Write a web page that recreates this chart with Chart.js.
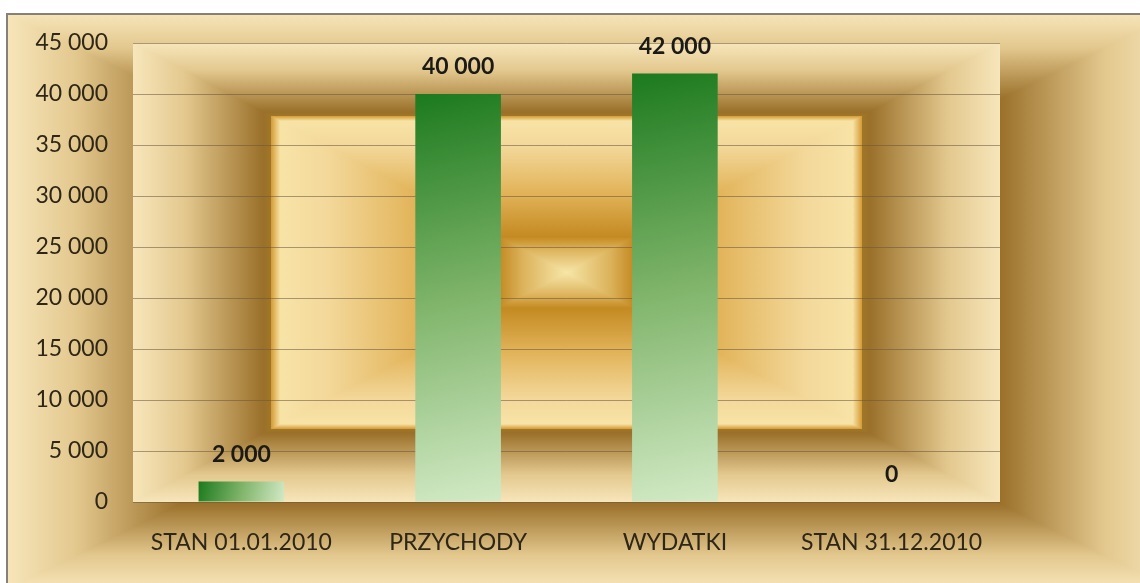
<!DOCTYPE html>
<html>
<head>
<meta charset="utf-8">
<title>Stan 2010</title>
<script src="https://cdn.jsdelivr.net/npm/chart.js@4.4.1/dist/chart.umd.min.js"></script>
<style>
    html, body { margin: 0; padding: 0; background: #ffffff; }
    #wrap { position: relative; width: 1140px; height: 583px; }
</style>
</head>
<body>
<div id="wrap"><canvas id="graphCanvas" width="1140" height="583"></canvas></div>
<script>
var categories = ['STAN 01.01.2010', 'PRZYCHODY', 'WYDATKI', 'STAN 31.12.2010'];
var amounts = [2000, 40000, 42000, 0];
var yTicks = [0, 5000, 10000, 15000, 20000, 25000, 30000, 35000, 40000, 45000];

var BAR_SHARE = 0.395;

// "gold" fill, t = 0 at the edge of the box, t = 1 in the middle
var goldStops = [
    [0, '#f7e6bb'],
    [0.12, '#e3c88e'],
    [0.30, '#9a702a'],
    [0.318, '#a07628'],
    [0.318, '#d49a34'],
    [0.34, '#f8e3a6'],
    [0.45, '#f3d89a'],
    [0.65, '#e2b45a'],
    [0.845, '#c48a22'],
    [0.9, '#dcb35c'],
    [1, '#f7e6a8']
];

function spaced(v) {
    return String(v).replace(/\B(?=(\d{3})+(?!\d))/g, ' ');
}

// rectangular gradient: left/right half over the whole box, then top and bottom triangles
function boxGradient(ctx, x0, y0, x1, y1, stops) {
    var cx = (x0 + x1) / 2, cy = (y0 + y1) / 2;
    var i, g;

    g = ctx.createLinearGradient(x0, 0, x1, 0);
    for (i = 0; i < stops.length; i++) g.addColorStop(stops[i][0] / 2, stops[i][1]);
    for (i = stops.length - 1; i >= 0; i--) g.addColorStop(1 - stops[i][0] / 2, stops[i][1]);
    ctx.fillStyle = g;
    ctx.fillRect(x0, y0, x1 - x0, y1 - y0);

    var tri = [[y0, x0, x1], [y1, x1, x0]];
    for (var k = 0; k < tri.length; k++) {
        var ey = tri[k][0];
        g = ctx.createLinearGradient(0, ey, 0, cy);
        for (i = 0; i < stops.length; i++) g.addColorStop(stops[i][0], stops[i][1]);
        ctx.beginPath();
        ctx.moveTo(tri[k][1], ey);
        ctx.lineTo(tri[k][2], ey);
        ctx.lineTo(cx, cy);
        ctx.closePath();
        ctx.fillStyle = g;
        ctx.fill();
    }
}

var goldBackground = {
    id: 'goldBackground',
    beforeDraw: function (chart) {
        var ctx = chart.ctx, a = chart.chartArea;
        ctx.save();
        // outer frame, its inner light part stays hidden under the plot area
        ctx.beginPath();
        ctx.rect(6, 13, chart.width - 6, chart.height - 13);
        ctx.clip();
        boxGradient(ctx, 6, 13, 1175, 590, goldStops);
        ctx.restore();

        ctx.save();
        ctx.strokeStyle = '#858079';
        ctx.lineWidth = 2;
        ctx.beginPath();
        ctx.moveTo(7, chart.height);
        ctx.lineTo(7, 14);
        ctx.lineTo(chart.width, 14);
        ctx.stroke();
        ctx.restore();

        // plot area
        ctx.save();
        boxGradient(ctx, a.left, a.top, a.right, a.bottom, goldStops);
        ctx.restore();
    }
};

// green fill running corner to corner over each bar, placed from the scales
function barFill(context) {
    var chart = context.chart;
    var xs = chart.scales.x, ys = chart.scales.y;
    if (!chart.chartArea || !xs || !ys) return '#4f9a45';
    var i = context.dataIndex;
    var half = xs.width / categories.length * BAR_SHARE / 2;
    var cx = xs.getPixelForValue(i);
    var top = ys.getPixelForValue(amounts[i]);
    var bottom = ys.getPixelForValue(0);
    if (bottom - top < 1) top = bottom - 1;
    var g = chart.ctx.createLinearGradient(cx - half, top, cx + half, bottom);
    g.addColorStop(0, '#1c7a1e');
    g.addColorStop(0.5, '#7fb46a');
    g.addColorStop(1, '#d3eac6');
    return g;
}

var valueLabels = {
    id: 'valueLabels',
    afterDatasetsDraw: function (chart) {
        var ctx = chart.ctx;
        var meta = chart.getDatasetMeta(0);
        ctx.save();
        ctx.font = 'bold 23px Lato';
        ctx.fillStyle = '#1c1a16';
        ctx.textAlign = 'center';
        ctx.textBaseline = 'middle';
        meta.data.forEach(function (bar, i) {
            ctx.fillText(spaced(amounts[i]), bar.x, bar.y - 27);
        });
        ctx.restore();
    }
};

var chartdata = {
    labels: categories,
    datasets: [
        {
            label: 'Kwota',
            data: amounts,
            backgroundColor: barFill,
            borderWidth: 0,
            categoryPercentage: 1,
            barPercentage: BAR_SHARE
        }
    ]
};

var barGraph = new Chart(document.getElementById('graphCanvas'), {
    type: 'bar',
    data: chartdata,
    plugins: [goldBackground, valueLabels],
    options: {
        responsive: false,
        animation: false,
        devicePixelRatio: 1,
        layout: { padding: { left: 0, top: 43, right: 140, bottom: 0 } },
        plugins: {
            legend: { display: false },
            tooltip: { enabled: false }
        },
        scales: {
            x: {
                grid: { display: false, drawTicks: false },
                border: { display: false },
                ticks: {
                    font: { family: 'Lato', size: 23 },
                    color: '#2e2617',
                    padding: 27
                },
                afterFit: function (scale) { scale.height = 81; }
            },
            y: {
                min: 0,
                max: 45000,
                afterBuildTicks: function (scale) {
                    scale.ticks = yTicks.map(function (v) { return { value: v }; });
                },
                grid: { color: 'rgba(105,85,60,0.55)', lineWidth: 1, drawTicks: false },
                border: { display: false },
                ticks: {
                    font: { family: 'Lato', size: 23 },
                    color: '#2e2617',
                    padding: 25,
                    callback: function (v) { return spaced(v); }
                },
                afterFit: function (scale) { scale.width = 133; }
            }
        }
    }
});
</script>
</body>
</html>
